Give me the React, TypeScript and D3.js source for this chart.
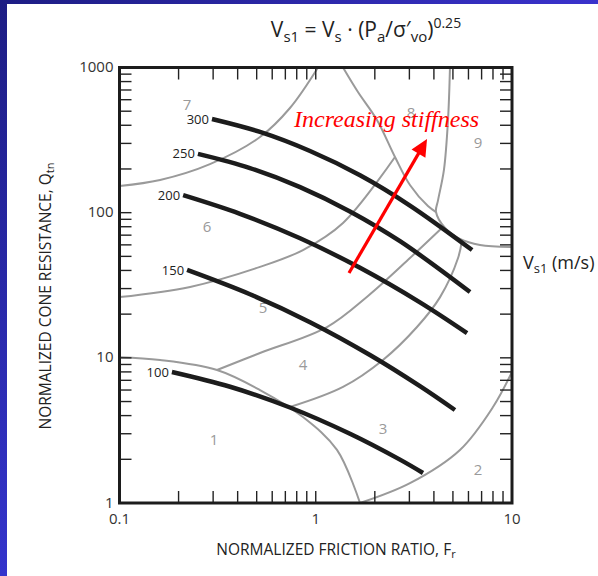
import React from 'react';
import * as d3 from 'd3';

const W = 598;
const H = 576;

// shear wave velocity contours, points as [Fr, Qtn]
const vsLevels = [100, 150, 200, 250, 300];
const vs100 = [[0.185, 7.99], [0.366, 6.32], [0.739, 4.55], [1.494, 3.0], [2.687, 1.99], [3.52, 1.61]];
const vs150 = [[0.221, 40.3], [0.462, 27.4], [0.935, 17.6], [1.889, 10.46], [3.396, 6.38], [5.12, 4.37]];
const vs200 = [[0.211, 132], [0.411, 98.2], [0.832, 66.6], [1.681, 41.7], [3.396, 24.1], [5.9, 14.8]];
const vs250 = [[0.251, 254], [0.462, 203], [0.832, 150], [1.494, 102], [2.687, 63.6], [6.11, 28.4]];
const vs300 = [[0.296, 442], [0.52, 360], [0.935, 266], [1.681, 181], [3.02, 112], [6.26, 55.3]];
const vsSeries = [vs100, vs150, vs200, vs250, vs300];

// soil behaviour type zone boundaries (Robertson 1990)
const zone7Edge = [[0.1, 152.7], [0.161, 168], [0.289, 216], [0.52, 332], [0.739, 526], [1.027, 1000]];
const zone6Edge = [[0.1, 26.2], [0.229, 30.8], [0.52, 42.3], [0.861, 55.3], [1.377, 84.9], [2.534, 241.8]];
const zone5Edge = [[0.314, 8.25], [0.52, 10.8], [1.141, 16.3], [1.846, 26.7], [3.02, 48.7], [4.5, 80.9]];
const zone4Edge = [[0.739, 4.58], [1.377, 6.3], [2.2, 9.66], [3.28, 16.3], [4.3, 26.2], [5.31, 48.7], [5.56, 64.8]];
const zone1Edge = [[0.1, 10.1], [0.161, 9.66], [0.314, 8.25], [0.52, 6.0], [0.861, 3.91], [1.283, 2.32], [1.681, 1.0]];
const zone2Edge = [[1.681, 1.0], [3.02, 1.37], [5.43, 2.32], [8.0, 4.58], [10, 7.99]];
const zone8Edge = [[1.377, 1000], [1.641, 678], [2.051, 435], [2.534, 241.8], [3.02, 155], [3.73, 111], [4.1, 101]];
const zone9Edge = [[4.83, 1000], [4.72, 435], [4.5, 197], [4.2, 122], [4.1, 101], [4.56, 78.4], [5.43, 65.9], [6.87, 59.9], [10, 58.0]];
const zoneEdges = [zone7Edge, zone6Edge, zone5Edge, zone4Edge, zone1Edge, zone2Edge, zone8Edge, zone9Edge];

const zoneNames = ['1', '2', '3', '4', '5', '6', '7', '8', '9'];
const zoneFr = [0.303, 6.71, 2.2, 0.861, 0.538, 0.279, 0.221, 3.06, 6.71];
const zoneQ = [2.72, 1.69, 3.23, 8.93, 22.0, 79.7, 552, 486, 302];

const xTickLabels = [0.1, 1, 10];
const yTickLabels = [1, 10, 100, 1000];

const arrowFrom = [1.477, 38.4];
const arrowTo = [3.69, 322];
const noteAt = [0.775, 389];

const font = "'Open Sans', 'Noto Sans', sans-serif";

export default function App() {
  const x = d3.scaleLog().domain([0.1, 10]).range([119.5, 512]);
  const y = d3.scaleLog().domain([1, 1000]).range([503, 67.5]);
  const line = d3.line<number[]>()
    .x(d => x(d[0]))
    .y(d => y(d[1]))
    .curve(d3.curveCatmullRom.alpha(0.5));

  const [x0, x1] = x.range();
  const [y0, y1] = y.range();
  const tl = 12;

  // arrow geometry in pixels
  const ax0 = x(arrowFrom[0]), ay0 = y(arrowFrom[1]);
  const ax1 = x(arrowTo[0]), ay1 = y(arrowTo[1]);
  const ang = Math.atan2(ay1 - ay0, ax1 - ax0);
  const hl = 17, hw = 8;
  const bx = ax1 - hl * Math.cos(ang), by = ay1 - hl * Math.sin(ang);
  const head = [
    [ax1, ay1],
    [bx + hw * Math.sin(ang), by - hw * Math.cos(ang)],
    [bx - hw * Math.sin(ang), by + hw * Math.cos(ang)],
  ].map(p => p.join(',')).join(' ');

  return (
    <svg width={W} height={H} style={{ position: 'absolute', left: 0, top: 0, fontFamily: font }}>
      <defs>
        <linearGradient id="lstrip" x1="0" y1="0" x2="0" y2="1">
          <stop offset="0" stopColor="#1d1d84" />
          <stop offset="1" stopColor="#3434cc" />
        </linearGradient>
        <linearGradient id="tstrip" x1="0" y1="0" x2="1" y2="0">
          <stop offset="0" stopColor="#1d1d84" />
          <stop offset="1" stopColor="#3a32cc" />
        </linearGradient>
      </defs>
      <rect width={W} height={H} fill="#ffffff" />
      <rect x={0} y={0} width={7} height={H} fill="url(#lstrip)" />
      <rect x={0} y={0} width={W} height={4} fill="url(#tstrip)" />

      {/* zone boundaries */}
      <g fill="none" stroke="#9a9a9a" strokeWidth={2}>
        {zoneEdges.map((e, i) => <path key={i} d={line(e) || ''} />)}
      </g>
      <g fill="#9a9a9a" fontSize={15} textAnchor="middle">
        {zoneNames.map((n, i) => (
          <text key={n} x={x(zoneFr[i])} y={y(zoneQ[i])} dy="0.35em">{n}</text>
        ))}
      </g>

      {/* ticks, all inside */}
      <g stroke="#222" strokeWidth={1.4}>
        {x.ticks().filter(t => t > 0.1 && t < 10).map((t, i) => (
          <g key={'x' + i}>
            <line x1={x(t)} x2={x(t)} y1={y0} y2={y0 - tl} />
            <line x1={x(t)} x2={x(t)} y1={y1} y2={y1 + tl} />
          </g>
        ))}
        {y.ticks().filter(t => t > 1 && t < 1000).map((t, i) => (
          <g key={'y' + i}>
            <line x1={x0} x2={x0 + tl} y1={y(t)} y2={y(t)} />
            <line x1={x1} x2={x1 - tl} y1={y(t)} y2={y(t)} />
          </g>
        ))}
      </g>

      {/* Vs1 contours */}
      <g fill="none" stroke="#1c1c1c" strokeWidth={4.5}>
        {vsSeries.map((s, i) => <path key={i} d={line(s) || ''} />)}
      </g>
      <g fill="#222" fontSize={13} textAnchor="end">
        {vsSeries.map((s, i) => (
          <text key={i} x={x(s[0][0]) - 3} y={y(s[0][1])} dy="0.35em">{vsLevels[i]}</text>
        ))}
      </g>

      {/* frame */}
      <rect x={x0} y={y1} width={x1 - x0} height={y0 - y1} fill="none" stroke="#1c1c1c" strokeWidth={3} />

      {/* tick labels */}
      <g fill="#333" fontSize={15}>
        {xTickLabels.map(t => (
          <text key={t} x={x(t)} y={y0 + 21} textAnchor="middle">{t}</text>
        ))}
        {yTickLabels.map(t => (
          <text key={t} x={x0 - 6} y={y(t)} dy="0.3em" textAnchor="end">{t}</text>
        ))}
      </g>

      {/* annotation */}
      <line x1={ax0} y1={ay0} x2={bx + 2 * Math.cos(ang)} y2={by + 2 * Math.sin(ang)} stroke="#ff0000" strokeWidth={3.2} />
      <polygon points={head} fill="#ff0000" />
      <text x={x(noteAt[0])} y={y(noteAt[1])} fill="#ff0000" fontSize={24} fontStyle="italic"
        fontFamily="'Liberation Serif', 'DejaVu Serif', serif">Increasing stiffness</text>

      {/* titles */}
      <text x={366} y={37} fontSize={21} fill="#222" textAnchor="middle">
        V<tspan fontSize={15} dy={5}>s1</tspan>
        <tspan dy={-5}> = V</tspan><tspan fontSize={15} dy={5}>s</tspan>
        <tspan dy={-5}> · (P</tspan><tspan fontSize={15} dy={5}>a</tspan>
        <tspan dy={-5}>/σ′</tspan><tspan fontSize={15} dy={5}>vo</tspan>
        <tspan dy={-5}>)</tspan><tspan fontSize={14} dy={-9}>0.25</tspan>
      </text>
      <text x={523} y={269} fontSize={18} fill="#222">
        V<tspan fontSize={13} dy={4}>s1</tspan><tspan dy={-4}> (m/s)</tspan>
      </text>
      <text x={336} y={555} fontSize={15.5} fill="#222" textAnchor="middle">
        NORMALIZED FRICTION RATIO, F<tspan fontSize={11} dy={3}>r</tspan>
      </text>
      <text transform="translate(51,296) rotate(-90)" fontSize={15.5} fill="#222" textAnchor="middle">
        NORMALIZED CONE RESISTANCE, Q<tspan fontSize={11} dy={3}>tn</tspan>
      </text>
    </svg>
  );
}
